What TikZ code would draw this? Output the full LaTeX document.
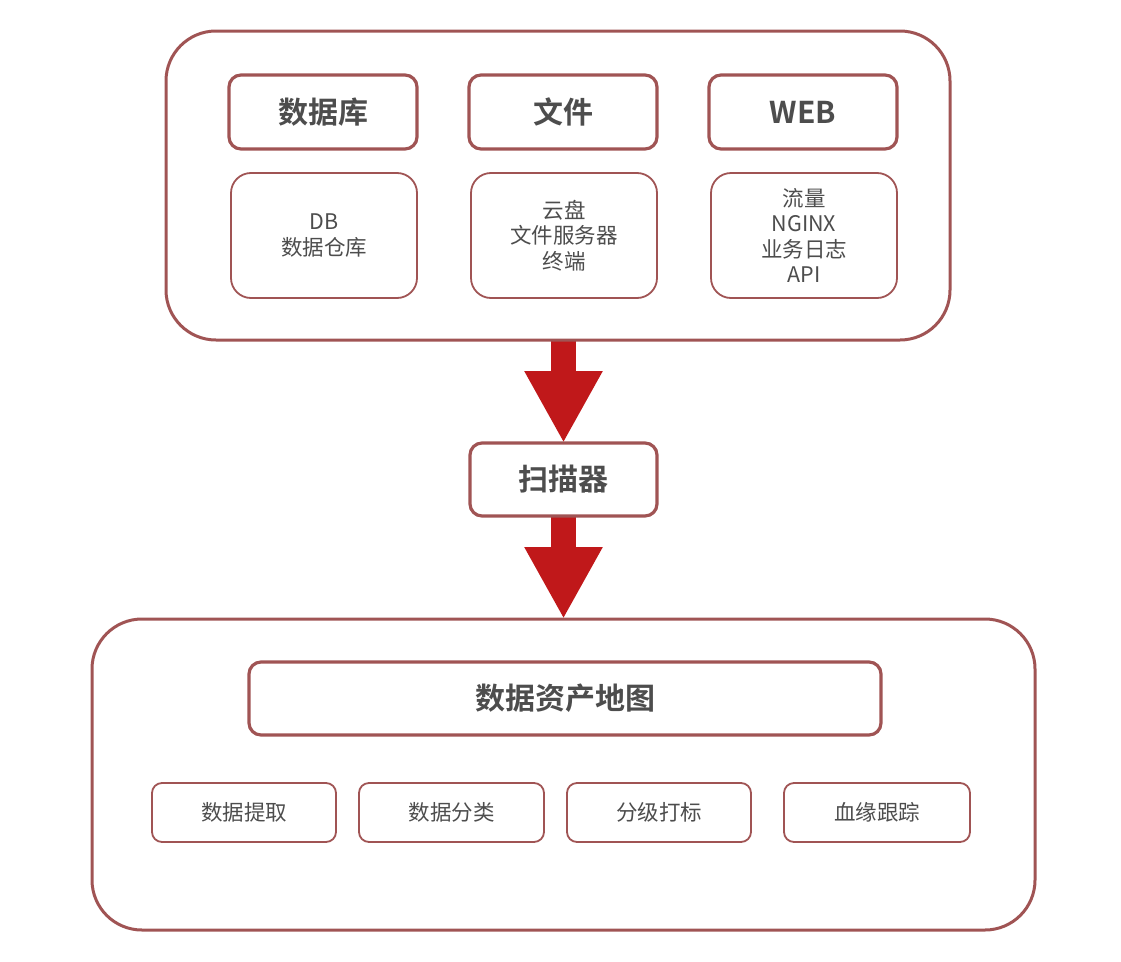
\documentclass[tikz,border=0pt]{standalone}
\usepackage{fontspec}
\setmainfont{Noto Sans CJK SC}[BoldFont={Noto Sans CJK SC Bold}]
\usetikzlibrary{arrows.meta,backgrounds}
\definecolor{frame}{RGB}{160,84,84}
\definecolor{txt}{RGB}{77,77,77}
\definecolor{arrowred}{RGB}{192,24,26}
\tikzset{
  outerbox/.style={draw=frame,line width=3pt,rounded corners=50pt},
  headbox/.style={draw=frame,line width=3.2pt,rounded corners=12pt,text=txt,fill=white,
    font=\fontsize{30}{36}\selectfont\bfseries},
  subbox/.style={draw=frame,line width=1.8pt,rounded corners=20pt,text=txt,align=center,
    font=\fontsize{21.5}{25.5}\selectfont,minimum width=186pt,minimum height=125pt},
  smallbox/.style={draw=frame,line width=1.8pt,rounded corners=10pt,text=txt,
    font=\fontsize{21.5}{25.5}\selectfont,minimum height=59pt},
  bigarrow/.style={draw=arrowred,fill=arrowred,line width=25pt,
    -{Triangle[width=73pt 0 0,length=72pt 0 0]}}
}
\begin{document}
\begin{tikzpicture}[x=1pt,y=-1pt,inner sep=0pt,outer sep=0pt]
\useasboundingbox (0,0) rectangle (1121,961);
% top group
\node[outerbox,minimum width=784pt,minimum height=309pt] (top) at (558,185.5) {};
\node[headbox,minimum width=188pt,minimum height=74pt] (h1) at (323,112) {数据库};
\node[headbox,minimum width=188pt,minimum height=74pt] (h2) at (563,112) {文件};
\node[headbox,minimum width=188pt,minimum height=74pt] (h3) at (803,112) {WEB};
\node[subbox] (s1) at (324,235.5) {DB\\数据仓库};
\node[subbox] (s2) at (564,235.5) {云盘\\文件服务器\\终端};
\node[subbox] (s3) at (804,235.5) {流量\\NGINX\\业务日志\\API};
% scanner
\node[headbox,minimum width=187pt,minimum height=73pt] (scan) at (563.5,479.5) {扫描器};
% bottom group
\node[outerbox,minimum width=943pt,minimum height=311pt] (bot) at (563.5,774.5) {};
\node[headbox,minimum width=632pt,minimum height=73pt] (map) at (565,698.5) {数据资产地图};
\node[smallbox,minimum width=184pt] (b1) at (244,812.5) {数据提取};
\node[smallbox,minimum width=185pt] (b2) at (451.5,812.5) {数据分类};
\node[smallbox,minimum width=184pt] (b3) at (659,812.5) {分级打标};
\node[smallbox,minimum width=186pt] (b4) at (877,812.5) {血缘跟踪};
% arrows
\begin{scope}[on background layer]
\draw[bigarrow] (scan.north |- top.south) -- (scan.north);
\draw[bigarrow] (scan.south) -- (scan.south |- bot.north);
\end{scope}
\end{tikzpicture}
\end{document}
